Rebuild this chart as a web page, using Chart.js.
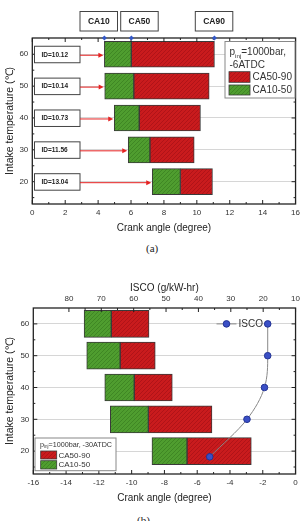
<!DOCTYPE html>
<html lang="en">
<head>
<meta charset="UTF-8">
<meta name="viewport" content="width=device-width, initial-scale=1.0">
<title>Combustion phasing vs intake temperature</title>
<script src="https://cdn.jsdelivr.net/npm/chart.js"></script>
<style>
  body { margin: 0; width: 304px; height: 521px; overflow: hidden; background: #fff; position: relative; }
  .box { position: absolute; left: 0; width: 304px; }
  .cap { position: absolute; font-family: 'Liberation Serif', 'Times New Roman', serif; font-size: 11px; line-height: 12px; color: #222; }
</style>
</head>
<body>
<div class="box" style="top:0;height:240px"><canvas id="chartA"></canvas></div>
<div class="cap" style="left:146px;top:242px">(a)</div>
<div class="box" style="top:258px;height:252px"><canvas id="chartB"></canvas></div>
<div class="cap" style="left:137px;top:514px">(b)</div>

<script>
// intake temperature rows
const temps = [60, 50, 40, 30, 20];

// (a) injection at -6 ATDC
const ca10A = [4.38, 4.40, 4.98, 5.83, 7.29];
const ca50A = [6.02, 6.17, 6.50, 7.15, 9.00];
const ca90A = [11.07, 10.75, 10.22, 9.84, 10.95];
const idLabels = ['ID=10.12', 'ID=10.14', 'ID=10.73', 'ID=11.56', 'ID=13.04'];
const markerLabels = ['CA10', 'CA50', 'CA90'];

// (b) injection at -30 ATDC
const ca10B = [-12.90, -12.74, -11.64, -11.30, -8.76];
const ca50B = [-11.24, -10.70, -9.84, -8.98, -6.62];
const ca90B = [-8.94, -8.56, -7.52, -5.10, -2.70];
const iscoTemps = [60, 50, 40, 30, 18.2];
const iscoVals = [18.6, 18.6, 19.6, 25.0, 36.5];

// ticks
const tempTicks = [20, 30, 40, 50, 60];
const crankTicksA = [0, 2, 4, 6, 8, 10, 12, 14, 16];
const crankTicksB = [-16, -14, -12, -10, -8, -6, -4, -2, 0];
const iscoTicks = [80, 70, 60, 50, 40, 30, 20, 10];

const FONT = "'Liberation Sans', Arial, sans-serif";
Chart.defaults.font.family = FONT;
Chart.defaults.color = '#333';

const mids = arr => arr.slice(1).map((v, i) => (v + arr[i]) / 2);

function hatch(base, line) {
  const c = document.createElement('canvas');
  c.width = 4; c.height = 4;
  const g = c.getContext('2d');
  g.fillStyle = base;
  g.fillRect(0, 0, 4, 4);
  g.strokeStyle = line;
  g.lineWidth = 0.8;
  g.beginPath();
  g.moveTo(0, 4); g.lineTo(4, 0);
  g.moveTo(-1, 1); g.lineTo(1, -1);
  g.moveTo(3, 5); g.lineTo(5, 3);
  g.stroke();
  return g.createPattern(c, 'repeat');
}
const RED = hatch('#c91b1d', '#a91216');
const GREEN = hatch('#4f9d2f', '#3b8222');

function phaseSets(start, mid, end, thick) {
  const common = { type: 'bar', indexAxis: 'y', grouped: false, barThickness: thick,
    borderColor: '#3a3a3a', borderWidth: 1, borderSkipped: false, xAxisID: 'x', yAxisID: 'y' };
  return [
    Object.assign({ label: 'CA10-50', backgroundColor: GREEN,
      data: temps.map((t, i) => ({ x: [start[i], mid[i]], y: t })) }, common),
    Object.assign({ label: 'CA50-90', backgroundColor: RED,
      data: temps.map((t, i) => ({ x: [mid[i], end[i]], y: t })) }, common)
  ];
}

// frame with inward major/minor ticks on all four sides
const frame = {
  id: 'frame',
  afterDatasetsDraw(chart, args, o) {
    const { ctx, chartArea: a, scales } = chart;
    ctx.save();
    ctx.strokeStyle = '#222';
    ctx.lineWidth = 1;
    const mark = (scale, vals, len, side) => vals.forEach(v => {
      const p = scale.getPixelForValue(v);
      ctx.beginPath();
      if (side === 'bottom') { ctx.moveTo(p, a.bottom); ctx.lineTo(p, a.bottom - len); }
      if (side === 'top') { ctx.moveTo(p, a.top); ctx.lineTo(p, a.top + len); }
      if (side === 'left') { ctx.moveTo(a.left, p); ctx.lineTo(a.left + len, p); }
      if (side === 'right') { ctx.moveTo(a.right, p); ctx.lineTo(a.right - len, p); }
      ctx.stroke();
    });
    const xb = scales.x, xt = scales[o.top], y = scales.y;
    mark(xb, o.bottomMajor, 4, 'bottom');
    mark(xb, mids(o.bottomMajor), 2, 'bottom');
    mark(xt, o.topMajor, 4, 'top');
    mark(xt, mids(o.topMajor), 2, 'top');
    const yMinor = [15].concat(mids(tempTicks));
    ['left', 'right'].forEach(s => { mark(y, tempTicks, 4, s); mark(y, yMinor, 2, s); });
    ctx.lineWidth = 1.3;
    ctx.strokeRect(a.left, a.top, a.right - a.left, a.bottom - a.top);
    ctx.restore();
  }
};

function drawPinj(ctx, x, y, size, rest) {
  ctx.font = size + 'px ' + FONT;
  ctx.textAlign = 'left';
  ctx.textBaseline = 'alphabetic';
  ctx.fillText('p', x, y);
  let w = ctx.measureText('p').width;
  ctx.font = (size * 0.62) + 'px ' + FONT;
  ctx.fillText('inj', x + w, y + size * 0.25);
  w += ctx.measureText('inj').width;
  ctx.font = size + 'px ' + FONT;
  ctx.fillText(rest, x + w, y);
}

function swatch(ctx, fill, x, y, w, h) {
  ctx.fillStyle = fill;
  ctx.fillRect(x, y, w, h);
  ctx.strokeStyle = '#3a3a3a';
  ctx.lineWidth = 0.8;
  ctx.strokeRect(x, y, w, h);
}

const annotA = {
  id: 'annotA',
  afterDraw(chart) {
    const { ctx, chartArea: a, scales: { x, y } } = chart;
    ctx.save();
    // CA10 / CA50 / CA90 markers with their labels
    const marks = [ca10A[0], ca50A[0], ca90A[0]];
    const boxLeft = [80, 120.7, 195.3];
    marks.forEach((v, i) => {
      const px = x.getPixelForValue(v);
      ctx.fillStyle = '#3358c8';
      ctx.beginPath();
      ctx.moveTo(px, a.top - 2.5); ctx.lineTo(px + 2.5, a.top);
      ctx.lineTo(px, a.top + 2.5); ctx.lineTo(px - 2.5, a.top);
      ctx.closePath(); ctx.fill();
      ctx.fillStyle = '#fff';
      ctx.strokeStyle = '#444';
      ctx.lineWidth = 1;
      ctx.fillRect(boxLeft[i], 11.5, 37.5, 19.5);
      ctx.strokeRect(boxLeft[i], 11.5, 37.5, 19.5);
      ctx.fillStyle = '#222';
      ctx.font = 'bold 8.5px ' + FONT;
      ctx.textAlign = 'center';
      ctx.textBaseline = 'middle';
      ctx.fillText(markerLabels[i], boxLeft[i] + 18.75, 21.5);
    });
    // ignition delay boxes and arrows
    temps.forEach((t, i) => {
      const py = y.getPixelForValue(t);
      ctx.fillStyle = '#fff';
      ctx.strokeStyle = '#444';
      ctx.lineWidth = 1;
      ctx.fillRect(34.5, py - 8, 45.5, 16.5);
      ctx.strokeRect(34.5, py - 8, 45.5, 16.5);
      ctx.fillStyle = '#222';
      ctx.font = 'bold 6.5px ' + FONT;
      ctx.textAlign = 'left';
      ctx.textBaseline = 'middle';
      ctx.fillText(idLabels[i], 41.5, py + 0.5);
      const tip = x.getPixelForValue(ca10A[i]) - 1;
      ctx.strokeStyle = '#e52222';
      ctx.fillStyle = '#e52222';
      ctx.lineWidth = 1;
      ctx.beginPath();
      ctx.moveTo(80, py + 1); ctx.lineTo(tip - 4, py + 1);
      ctx.stroke();
      ctx.beginPath();
      ctx.moveTo(tip, py + 1); ctx.lineTo(tip - 5, py - 1.5); ctx.lineTo(tip - 5, py + 3.5);
      ctx.closePath(); ctx.fill();
    });
    // legend
    ctx.fillStyle = '#fff';
    ctx.strokeStyle = '#888';
    ctx.lineWidth = 1;
    ctx.fillRect(225, 41.5, 70, 56.5);
    ctx.strokeRect(225, 41.5, 70, 56.5);
    ctx.fillStyle = '#333';
    drawPinj(ctx, 229.5, 55, 10, '=1000bar,');
    ctx.fillText('-6ATDC', 229.5, 68);
    swatch(ctx, RED, 229, 71.7, 21, 10.6);
    swatch(ctx, GREEN, 229, 85, 21, 10);
    ctx.fillStyle = '#333';
    ctx.font = '10px ' + FONT;
    ctx.textBaseline = 'middle';
    ctx.fillText('CA50-90', 252.5, 77.5);
    ctx.fillText('CA10-50', 252.5, 90.5);
    ctx.restore();
  }
};

const annotB = {
  id: 'annotB',
  afterDraw(chart) {
    const { ctx, scales: { y } } = chart;
    ctx.save();
    // ISCO legend entry on the 60 row
    const py = y.getPixelForValue(temps[0]);
    ctx.strokeStyle = '#888';
    ctx.lineWidth = 1;
    ctx.beginPath(); ctx.moveTo(216.5, py); ctx.lineTo(236.5, py); ctx.stroke();
    ctx.fillStyle = '#3a4fc6';
    ctx.strokeStyle = '#243494';
    ctx.beginPath(); ctx.arc(226.5, py, 3.3, 0, Math.PI * 2); ctx.fill(); ctx.stroke();
    ctx.fillStyle = '#333';
    ctx.font = '10px ' + FONT;
    ctx.textAlign = 'left';
    ctx.textBaseline = 'middle';
    ctx.fillText('ISCO', 238.5, py + 0.5);
    // phase legend
    ctx.fillStyle = '#fff';
    ctx.strokeStyle = '#888';
    ctx.fillRect(35, 180, 81, 32.7);
    ctx.strokeRect(35, 180, 81, 32.7);
    ctx.fillStyle = '#333';
    drawPinj(ctx, 40, 188.5, 7.2, '=1000bar, -30ATDC');
    swatch(ctx, RED, 40.7, 193, 16, 8);
    swatch(ctx, GREEN, 40.7, 202.7, 16, 8.3);
    ctx.fillStyle = '#333';
    ctx.font = '8px ' + FONT;
    ctx.textBaseline = 'middle';
    ctx.fillText('CA50-90', 58.5, 197.3);
    ctx.fillText('CA10-50', 58.5, 207);
    ctx.restore();
  }
};

const tickFont = { size: 8 };
const titleFont = { size: 10 };

function yScale(min, max, width) {
  return {
    type: 'linear', position: 'left', min: min, max: max, offset: false,
    afterBuildTicks: s => { s.ticks = tempTicks.map(v => ({ value: v })); },
    afterFit: s => { s.width = width; },
    grid: { color: '#d6d6d6', lineWidth: 1, drawTicks: false, offset: false },
    border: { display: false },
    ticks: { font: tickFont, padding: 4, color: '#333' },
    title: { display: true, text: 'Intake temperature (\u2103)', font: { size: 10.5 }, color: '#222', padding: { top: 4, bottom: 0 } }
  };
}

function crankScale(min, max, ticks) {
  return {
    type: 'linear', position: 'bottom', min: min, max: max,
    afterBuildTicks: s => { s.ticks = ticks.map(v => ({ value: v })); },
    afterFit: s => { s.height = 36; },
    grid: { display: false, drawTicks: false }, border: { display: false },
    ticks: { font: tickFont, padding: 4, color: '#333' },
    title: { display: true, text: 'Crank angle (degree)', font: titleFont, color: '#222', padding: { top: 0, bottom: 6 } }
  };
}

new Chart(document.getElementById('chartA'), {
  type: 'bar',
  data: { datasets: phaseSets(ca10A, ca50A, ca90A, 26) },
  options: {
    indexAxis: 'y',
    responsive: true,
    maintainAspectRatio: false,
    animation: false,
    layout: { padding: { top: 38, right: 6.3, left: 0, bottom: 0 } },
    plugins: { legend: { display: false }, tooltip: { enabled: false },
      frame: { top: 'x', topMajor: crankTicksA, bottomMajor: crankTicksA } },
    scales: {
      x: crankScale(0, 16, crankTicksA),
      y: yScale(13, 65.1, 32.3)
    }
  },
  plugins: [frame, annotA]
});

new Chart(document.getElementById('chartB'), {
  type: 'bar',
  data: {
    datasets: [{
      type: 'line', label: 'ISCO', indexAxis: 'y', xAxisID: 'x2', yAxisID: 'y',
      data: iscoTemps.map((t, i) => ({ x: iscoVals[i], y: t })),
      borderColor: '#888', borderWidth: 1, cubicInterpolationMode: 'monotone',
      pointRadius: 3.3, pointBackgroundColor: '#3a4fc6', pointBorderColor: '#243494', pointBorderWidth: 1
    }].concat(phaseSets(ca10B, ca50B, ca90B, 27))
  },
  options: {
    indexAxis: 'y',
    responsive: true,
    maintainAspectRatio: false,
    animation: false,
    layout: { padding: { top: 0, right: 4, left: 0, bottom: 0 } },
    plugins: { legend: { display: false }, tooltip: { enabled: false },
      frame: { top: 'x2', topMajor: iscoTicks, bottomMajor: crankTicksB } },
    scales: {
      x: crankScale(-16, 0, crankTicksB),
      x2: {
        type: 'linear', axis: 'x', position: 'top', min: 10, max: 91, reverse: true,
        afterBuildTicks: s => { s.ticks = iscoTicks.map(v => ({ value: v })); },
        afterFit: s => { s.height = 50; },
        grid: { display: false, drawTicks: false }, border: { display: false },
        ticks: { font: tickFont, padding: 4, color: '#333' },
        title: { display: true, text: 'ISCO (g/kW-hr)', font: titleFont, color: '#222', padding: { top: 24, bottom: 0 } }
      },
      y: yScale(12.8, 65, 33.3)
    }
  },
  plugins: [frame, annotB]
});
</script>
</body>
</html>
